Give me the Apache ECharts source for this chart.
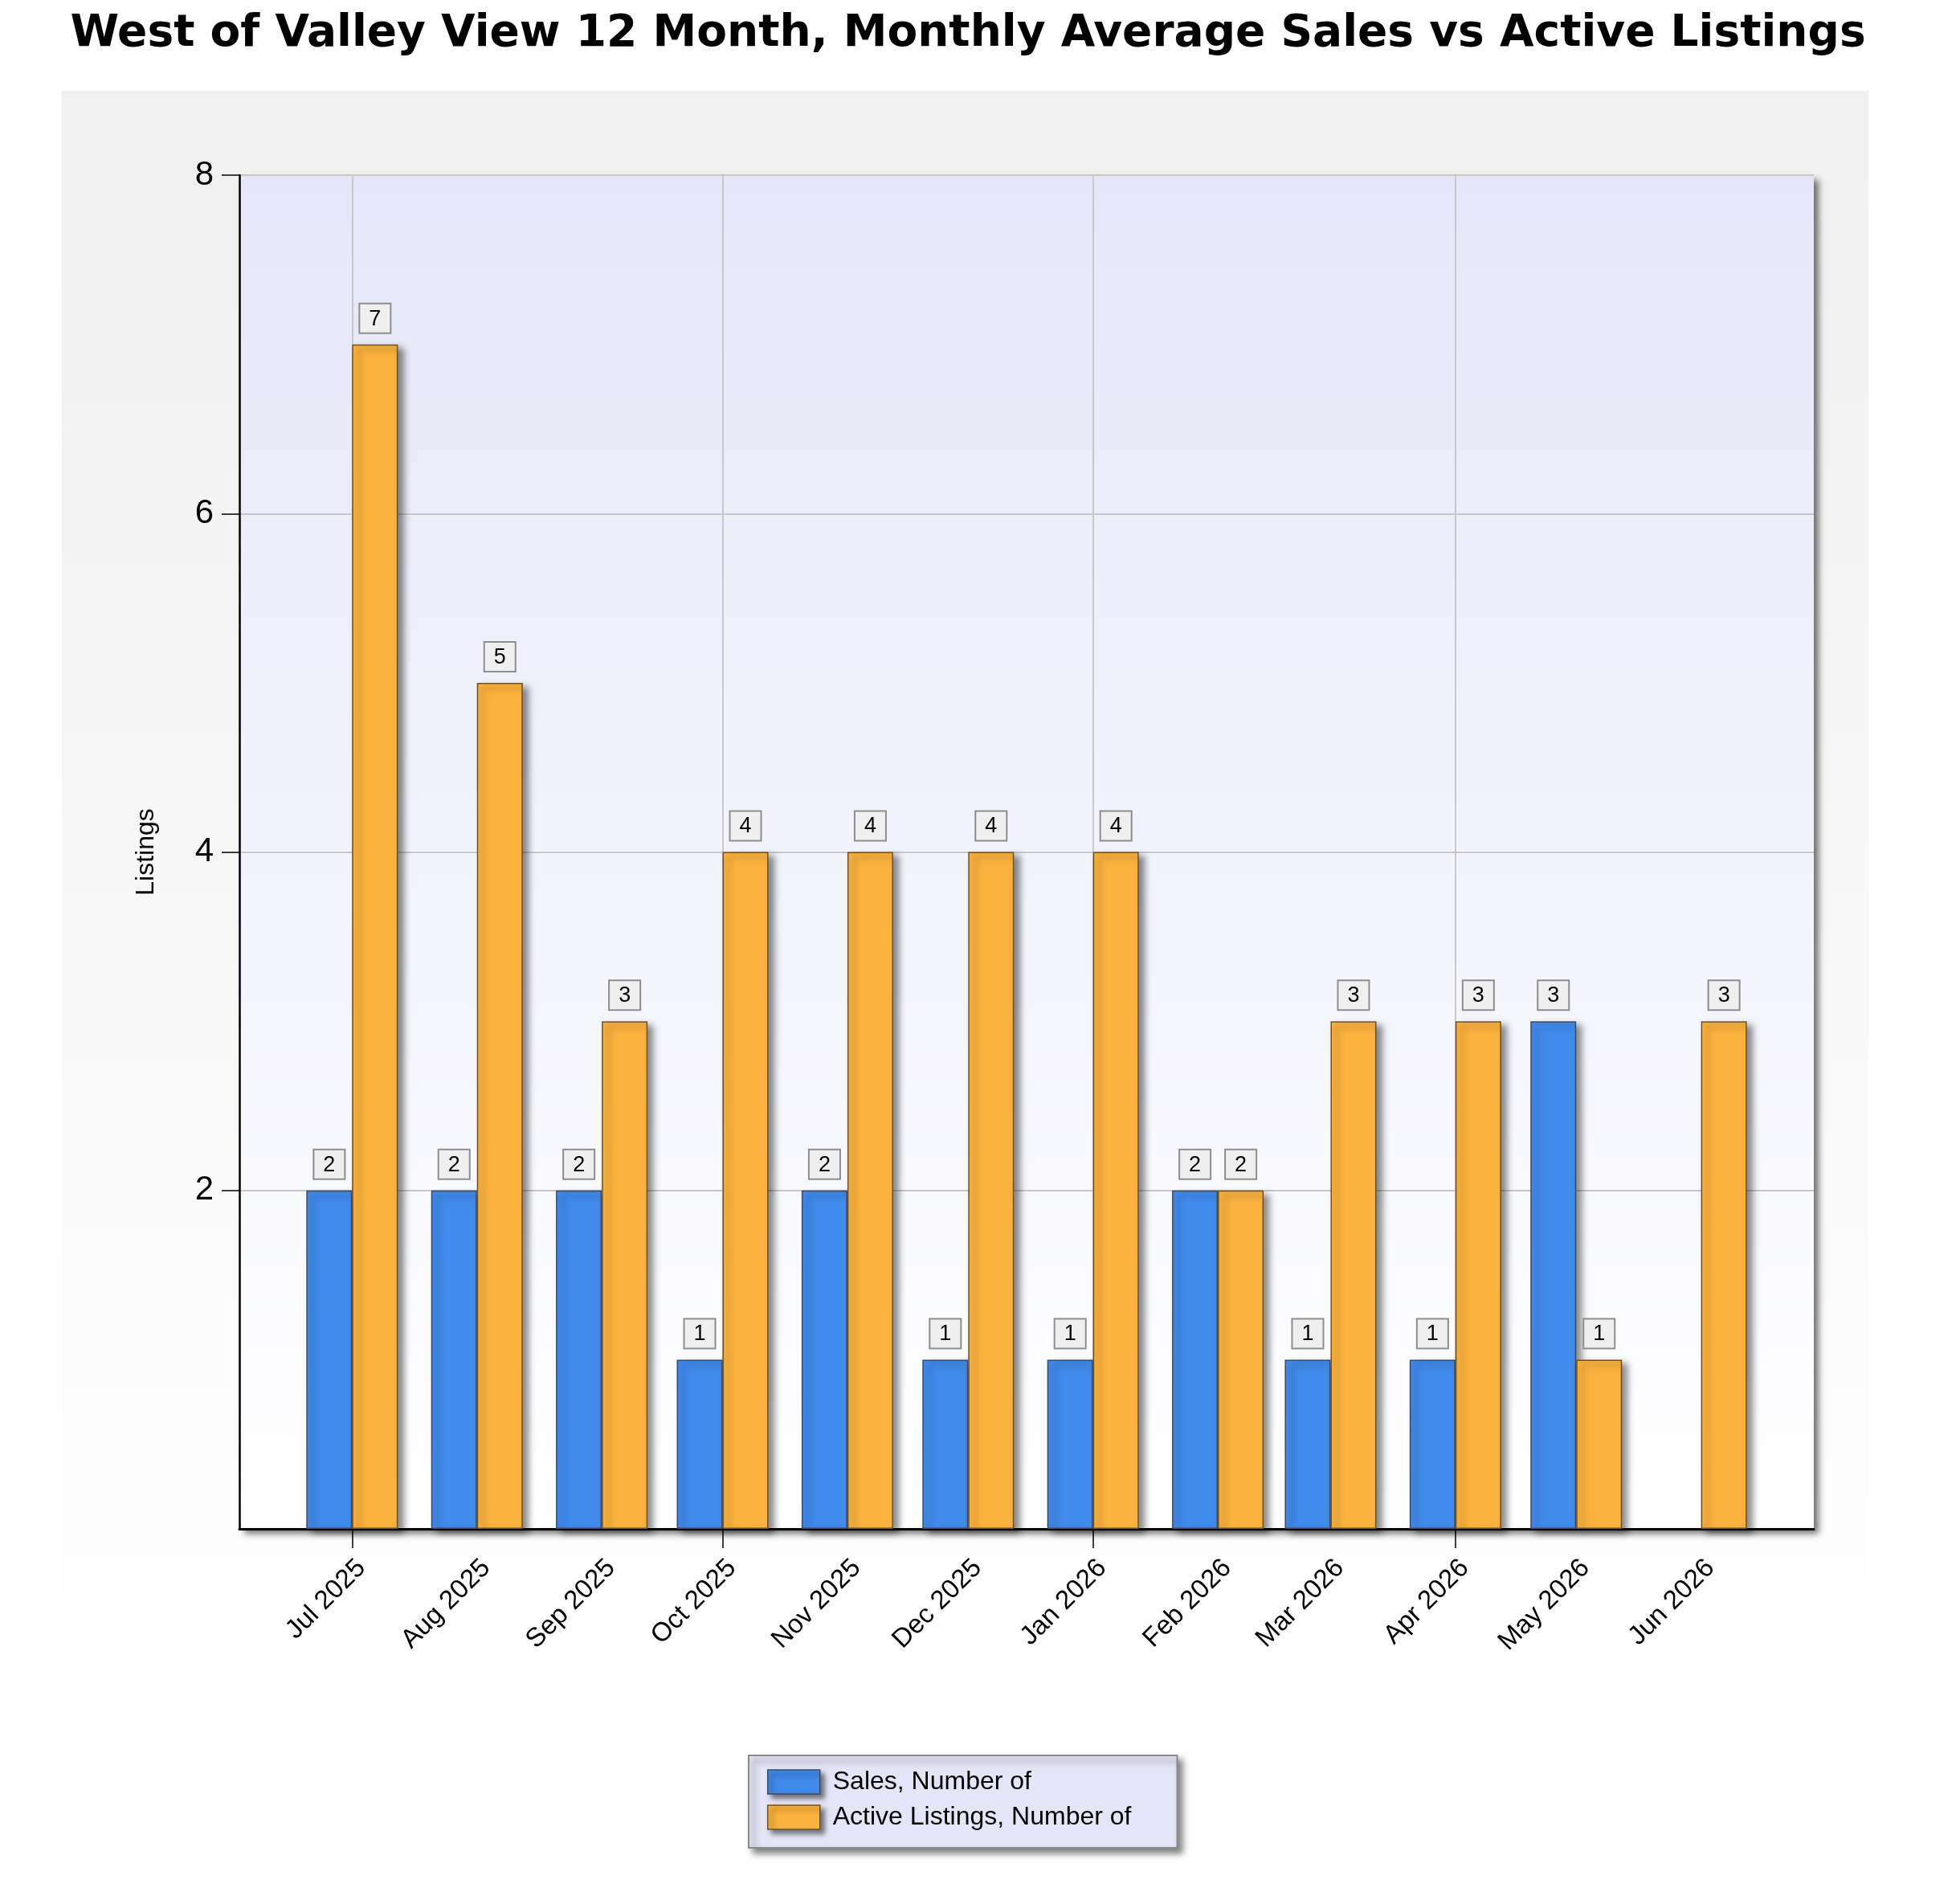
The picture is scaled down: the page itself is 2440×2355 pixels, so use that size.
<!DOCTYPE html>
<html>
<head>
<meta charset="UTF-8">
<script src="https://cdn.jsdelivr.net/npm/echarts/dist/echarts.min.js"></script>
<style>
  html, body { margin: 0; padding: 0; background: #ffffff; }
  #chart { width: 2440px; height: 2355px; }
</style>
</head>
<body>
<div id="chart"></div>
<script type="text/javascript">
// Months (first of each month) and their axis labels.
const months = ['2025-07-01', '2025-08-01', '2025-09-01', '2025-10-01', '2025-11-01', '2025-12-01',
                '2026-01-01', '2026-02-01', '2026-03-01', '2026-04-01', '2026-05-01', '2026-06-01'];
const monthLabels = ['Jul 2025', 'Aug 2025', 'Sep 2025', 'Oct 2025', 'Nov 2025', 'Dec 2025',
                     'Jan 2026', 'Feb 2026', 'Mar 2026', 'Apr 2026', 'May 2026', 'Jun 2026'];
// Tick marks and vertical grid lines only every quarter.
const quarterTicks = ['2025-07-01', '2025-10-01', '2026-01-01', '2026-04-01'];
const xRange = ['2025-06-03', '2026-06-29'];

const sales = [2, 2, 2, 1, 2, 1, 1, 2, 1, 1, 3, 0];
const activeListings = [7, 5, 3, 4, 4, 4, 4, 2, 3, 3, 1, 3];

const yTicks = [0, 2, 4, 6, 8];

const chart = echarts.init(document.getElementById('chart'));

// Dates are placed on the axis by their timestamp (days are not evenly spaced).
const toTime = d => echarts.time.parse(d).getTime();
const monthTimes = months.map(toTime);

function monthLabel(value) {
    const i = monthTimes.indexOf(value);
    return i >= 0 ? monthLabels[i] : '';
}

function toData(values) {
    return monthTimes.map((t, i) => {
        if (values[i] === 0) {
            // nothing drawn for an empty month
            return { value: [t, 0], itemStyle: { opacity: 0 }, label: { show: false } };
        }
        return [t, values[i]];
    });
}

const barLabel = {
    show: true,
    position: 'top',
    distance: 15,
    formatter: p => p.value[1],
    color: '#000',
    fontFamily: 'Liberation Sans, Arial, sans-serif',
    fontSize: 27,
    backgroundColor: '#efefef',
    borderColor: '#8e8e8e',
    borderWidth: 2,
    padding: [5, 11, 3, 11]
};

const shadow = {
    shadowColor: 'rgba(0,0,0,0.45)',
    shadowBlur: 8,
    shadowOffsetX: 7,
    shadowOffsetY: 5
};

const option = {
    backgroundColor: '#ffffff',
    animation: false,
    textStyle: { fontFamily: 'Liberation Sans, Arial, sans-serif' },
    graphic: [
        {
            type: 'rect',
            z: -10,
            silent: true,
            shape: { x: 77, y: 113, width: 2249, height: 2050 },
            style: {
                fill: new echarts.graphic.LinearGradient(0, 0, 0, 1, [
                    { offset: 0, color: '#f0f0f0' },
                    { offset: 1, color: '#ffffff' }
                ])
            }
        }
    ],
    title: {
        text: 'West of Valley View 12 Month, Monthly Average Sales vs Active Listings',
        left: 1200,
        textAlign: 'center',
        top: 10,
        textStyle: {
            fontFamily: 'DejaVu Sans, Verdana, sans-serif',
            fontWeight: 'bold',
            fontSize: 55,
            color: '#000'
        }
    },
    grid: {
        show: true,
        left: 298,
        right: 182,
        top: 218,
        bottom: 452,
        borderWidth: 0,
        backgroundColor: new echarts.graphic.LinearGradient(0, 0, 0, 1, [
            { offset: 0, color: '#e5e7f8' },
            { offset: 1, color: '#ffffff' }
        ]),
        shadowColor: 'rgba(0,0,0,0.55)',
        shadowBlur: 8,
        shadowOffsetX: 6,
        shadowOffsetY: 6
    },
    legend: {
        orient: 'vertical',
        left: 932,
        top: 2185,
        padding: [17, 57, 22, 23],
        itemWidth: 65,
        itemHeight: 30,
        itemGap: 12,
        backgroundColor: '#e4e6f7',
        borderColor: '#8a8a8a',
        borderWidth: 2,
        shadowColor: 'rgba(0,0,0,0.5)',
        shadowBlur: 8,
        shadowOffsetX: 6,
        shadowOffsetY: 6,
        icon: 'rect',
        itemStyle: {
            borderWidth: 1.5,
            shadowColor: 'rgba(0,0,0,0.5)',
            shadowBlur: 6,
            shadowOffsetX: 5,
            shadowOffsetY: 5
        },
        textStyle: {
            fontFamily: 'Liberation Sans, Arial, sans-serif',
            fontSize: 32,
            color: '#000',
            padding: [0, 0, 0, 11]
        },
        data: ['Sales, Number of', 'Active Listings, Number of']
    },
    xAxis: {
        type: 'value',
        min: toTime(xRange[0]),
        max: toTime(xRange[1]),
        axisLine: { show: true, onZero: false, lineStyle: { color: '#000', width: 3 } },
        axisTick: {
            show: true,
            customValues: quarterTicks.map(toTime),
            length: 24,
            lineStyle: { color: '#000', width: 1.5 }
        },
        splitLine: {
            show: true,
            lineStyle: { color: '#c8c8c8', width: 2 }
        },
        axisLabel: {
            customValues: monthTimes,
            formatter: monthLabel,
            rotate: 45,
            align: 'right',
            verticalAlign: 'top',
            margin: 32,
            fontSize: 33,
            color: '#000',
            fontFamily: 'Liberation Sans, Arial, sans-serif'
        }
    },
    yAxis: {
        type: 'value',
        min: yTicks[0],
        max: yTicks[yTicks.length - 1],
        interval: 2,
        name: 'Listings',
        nameLocation: 'middle',
        nameGap: 100,
        nameTextStyle: {
            fontFamily: 'Liberation Sans, Arial, sans-serif',
            fontSize: 32,
            color: '#000'
        },
        axisLine: { show: true, lineStyle: { color: '#000', width: 2.5 } },
        axisTick: { show: true, length: 22, lineStyle: { color: '#000', width: 1.5 } },
        splitLine: { show: true, lineStyle: { color: '#c8c8c8', width: 2 } },
        axisLabel: {
            showMinLabel: false,
            margin: 32,
            fontSize: 42,
            color: '#000',
            fontFamily: 'Liberation Sans, Arial, sans-serif'
        }
    },
    series: [
        {
            name: 'Sales, Number of',
            type: 'bar',
            barWidth: 57,
            barGap: '0%',
            itemStyle: Object.assign({ color: '#418bec', borderColor: '#3a4a66', borderWidth: 1.5 }, shadow),
            label: barLabel,
            data: toData(sales)
        },
        {
            name: 'Active Listings, Number of',
            type: 'bar',
            barWidth: 57,
            barGap: '0%',
            itemStyle: Object.assign({ color: '#fbb23e', borderColor: '#6e5320', borderWidth: 1.5 }, shadow),
            label: barLabel,
            data: toData(activeListings)
        }
    ]
};

chart.setOption(option);
</script>
</body>
</html>
